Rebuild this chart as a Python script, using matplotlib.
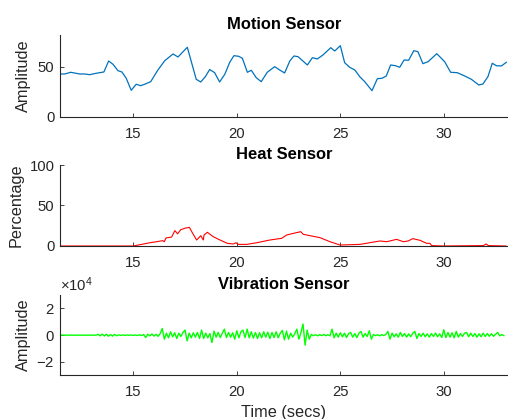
import numpy as np
import matplotlib
matplotlib.use("Agg")
import matplotlib.pyplot as plt
from matplotlib.ticker import ScalarFormatter

plt.rcParams['font.family'] = ['Liberation Sans', 'DejaVu Sans']
plt.rcParams['mathtext.fontset'] = 'custom'
plt.rcParams['mathtext.rm'] = 'Liberation Sans'
plt.rcParams['axes.unicode_minus'] = False

# motion sensor (seconds, amplitude)
motion_t = [11.46, 11.69, 11.98, 12.41, 12.65, 12.89, 13.21, 13.58, 13.81, 14.02,
            14.26, 14.45, 14.66, 14.90, 15.14, 15.36, 15.58, 15.84, 16.19, 16.52,
            16.92, 17.16, 17.61, 18.04, 18.26, 18.48, 18.69, 18.93, 19.17, 19.42,
            19.66, 19.86, 20.09, 20.27, 20.51, 20.70, 20.94, 21.18, 21.47, 21.83,
            22.07, 22.31, 22.56, 22.76, 22.96, 23.41, 23.65, 23.89, 24.16, 24.54,
            24.73, 25.00, 25.21, 25.45, 25.70, 25.94, 26.18, 26.53, 26.79, 27.01,
            27.22, 27.43, 27.66, 27.87, 28.08, 28.30, 28.55, 28.75, 28.99, 29.24,
            29.66, 30.04, 30.33, 30.65, 31.01, 31.33, 31.69, 31.89, 32.13, 32.34,
            32.54, 32.78, 33.02]
motion_v = [43, 43, 44.7, 43, 43, 42.3, 43.7, 45, 56, 52.7,
            46.3, 45, 38.7, 26.7, 32.7, 31.3, 33, 35.3, 47, 56.3,
            63, 60, 69.7, 37.7, 35, 40.3, 47.5, 44.3, 35, 42.7,
            54.7, 61.3, 60.7, 58.7, 44.7, 46.7, 39.3, 35.3, 44.7, 50.3,
            47, 44, 56, 61, 60.3, 52, 59.3, 58, 62, 69.3,
            66, 71.3, 54.3, 49.7, 47, 40.3, 35.3, 26.3, 38.3, 38.7,
            41, 52, 51.3, 49.7, 57, 56.7, 66.3, 65.3, 53.3, 55.3,
            63.3, 55.3, 44.7, 44.3, 41, 37.7, 32, 33, 40.3, 53.7,
            51.3, 51, 54.7]

# heat sensor (seconds, percentage)
heat_t = [11.46, 15.0, 15.4, 15.8, 16.13, 16.42, 16.50, 16.58, 16.85, 17.01,
          17.14, 17.29, 17.50, 17.71, 17.87, 18.06, 18.26, 18.38, 18.42, 18.58,
          18.86, 19.19, 19.54, 19.83, 19.96, 20.07, 20.48, 20.96, 21.6, 22.17,
          22.41, 22.73, 23.09, 23.21, 23.62, 24.02, 24.50, 24.99, 25.95, 26.52,
          26.92, 27.24, 27.72, 28.04, 28.28, 28.50, 28.85, 29.17, 29.33, 29.41,
          29.98, 31.91, 32.04, 32.15, 33.0]
heat_v = [0, 0, 2, 4, 5.3, 6.6, 5.3, 10, 11, 19,
          15, 20, 22, 23, 15.6, 7.4, 12.7, 7.4, 13.6, 16.9,
          11.5, 7.4, 3.3, 2.5, 4, 2, 2, 4, 7.4, 9.5,
          13.6, 15.6, 17.7, 14.4, 12.3, 10.3, 5.3, 1.2, 2, 4.5,
          6.2, 5.3, 8.2, 5.3, 6.2, 9.1, 7, 3.3, 3.3, 0.5,
          0, 0.5, 2.5, 0.5, 0]

# vibration sensor, one reading every 0.1 s from 11.5 s
vib_v = [0, 60, -40, 50, -30, 40, -50, 30, -40, 50,
         -30, 40, -50, 30, -40, 60, -30, 40, 600, -500,
         800, -600, 700, -800, 500, -700, 600, -400, 200, -150,
         100, -120, 150, -100, 120, -150, 100, -200, 250, -300,
         500, -1800, 700, -500, 900, -700, 600, -900, 1200, 5000,
         -3000, 1500, -2000, 2500, -1200, 1800, -2500, 1500, -1000, 2000,
         3800, -4300, 1500, -2000, 1800, -1500, 2000, -2500, 3800, -2500,
         1500, -2000, 1200, -5500, 3000, -1500, 2000, -1800, 1500, 4500,
         -1800, 2000, -1500, 1800, -3000, 3300, -2000, 2500, 3800, -1800,
         4500, -2000, 2500, -2200, 2000, -2500, 1800, -2000, 2500, -1500,
         2200, -2500, 2000, -1800, 2500, -2000, 1500, 3500, -3500, 3000,
         -3000, 1500, -1500, 1000, 4500, -3000, 2000, 8300, -7500, 3800,
         -3000, 500, -400, 300, -500, 400, -300, 500, -400, 300,
         -500, 4500, -2000, 1500, -1500, 1800, -1200, 1500, -1800, 1200,
         2000, -1500, 1200, -1800, 1500, 2800, -1500, 1200, -1000, 3300,
         -3000, 500, -400, 300, -500, 400, -300, 600, 2800, -3000,
         1500, -1200, 1000, -1500, 2000, -1000, 1200, -1500, 1000, -1200,
         1500, 2800, -2500, 1200, -1000, 1500, -1200, 1000, -1500, 1200,
         -1000, 1500, -1200, 1000, -1800, 4000, -1800, 2000, -1500, 1800,
         -2000, 2800, -1500, 1200, -1000, 1500, 2000, -1200, 1500, -1000,
         1200, -1500, 1000, -1200, 1500, -1000, 1200, -800, 1000, -800,
         600, 2000, -500, 400, -300]
vib_t = 11.5 + 0.1 * np.arange(len(vib_v))

xticks = [15, 20, 25, 30]
xlim = (11.46, 33.1)
axcol = '#262626'

fig = plt.figure(figsize=(5.08, 4.19), dpi=100)
ax1 = fig.add_axes([0.1181, 0.7208, 0.8819, 0.1957])
ax2 = fig.add_axes([0.1181, 0.4129, 0.8819, 0.1933])
ax3 = fig.add_axes([0.1181, 0.1043, 0.8819, 0.1916])

ax1.plot(motion_t, motion_v, color='#0072BD', lw=0.9)
ax1.set_ylim(0, 82)
ax1.set_yticks([0, 50])
ax1.set_ylabel('Amplitude', fontsize=11.7, labelpad=5)
ax1.set_title('Motion Sensor', fontsize=11.9, fontweight='bold', pad=4)

ax2.plot(heat_t, heat_v, color='red', lw=0.8)
ax2.set_ylim(0, 100)
ax2.set_yticks([0, 50, 100])
ax2.set_ylabel('Percentage', fontsize=11.7, labelpad=4)
ax2.set_title('Heat Sensor', fontsize=11.9, fontweight='bold', pad=4)

ax3.plot(vib_t, vib_v, color='#00FF00', lw=1.0)
ax3.set_ylim(-30000, 30000)
ax3.set_yticks([-20000, 0, 20000])
fmt = ScalarFormatter(useMathText=True)
fmt.set_powerlimits((0, 0))
ax3.yaxis.set_major_formatter(fmt)
ax3.yaxis.get_offset_text().set_fontsize(10.7)
ax3.yaxis.get_offset_text().set_color(axcol)
ax3.set_ylabel('Amplitude', fontsize=11.7, labelpad=4)
ax3.set_xlabel('Time (secs)', fontsize=11.7, labelpad=4, color=axcol)
ax3.set_title('Vibration Sensor', fontsize=11.9, fontweight='bold', pad=4)

for ax in [ax1, ax2, ax3]:
    ax.set_xlim(xlim)
    ax.set_xticks(xticks)
    ax.spines['top'].set_visible(False)
    ax.spines['right'].set_visible(False)
    ax.spines['left'].set_color(axcol)
    ax.spines['bottom'].set_color(axcol)
    ax.spines['left'].set_linewidth(0.8)
    ax.spines['bottom'].set_linewidth(0.8)
    ax.tick_params(direction='in', length=3.2, width=0.6, colors=axcol,
                   labelsize=10.7)
    ax.tick_params(axis='x', pad=7)
    ax.tick_params(axis='y', pad=4)
    ax.yaxis.label.set_color(axcol)

fig.savefig('out.png', dpi=100)
